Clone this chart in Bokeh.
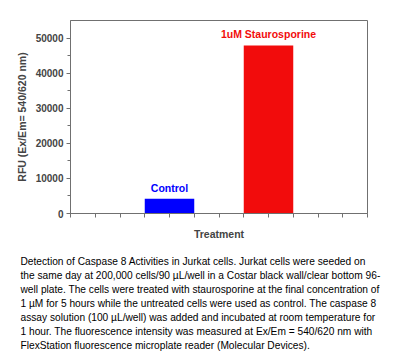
from bokeh.plotting import figure
from bokeh.models import Label, FixedTicker, Range1d, Title
from bokeh.embed import file_html
from bokeh.resources import INLINE

categories = ["Control", "1uM Staurosporine"]
values = [4200, 47900]
bar_colors = ["#0000ff", "#f20c0c"]
label_colors = ["#0000ff", "#f20c0c"]
positions = [4, 8]  # bar centres on the 0-12 treatment axis
y_ticks = [0, 10000, 20000, 30000, 40000, 50000]
caption_lines = [
    "Detection of Caspase 8 Activities in Jurkat cells. Jurkat cells were  seeded on",
    "the same day at 200,000 cells/90 \u00b5L/well in a Costar black wall/clear bottom 96-",
    "well plate. The cells were treated with staurosporine at the final concentration of",
    "1 \u00b5M for 5 hours while the untreated cells were used as control. The caspase 8",
    "assay solution (100 \u00b5L/well)  was added and incubated at room temperature  for",
    "1 hour. The fluorescence intensity was measured at Ex/Em = 540/620  nm with",
    "FlexStation fluorescence microplate reader (Molecular Devices).",
]

FONT = "Liberation Sans"
AXC = "#707070"

p = figure(width=400, height=351, output_backend="svg", toolbar_location=None,
           x_range=Range1d(0, 12), y_range=Range1d(0, 55000),
           min_border_left=70, min_border_right=33, min_border_top=20,
           min_border_bottom=0)
p.grid.visible = False
p.outline_line_color = AXC
p.outline_line_width = 1

p.vbar(x=positions, top=values, width=2, color=bar_colors, line_color=None)

for xpos, v, name, c in zip(positions, values, categories, label_colors):
    p.add_layout(Label(x=xpos, y=v, text=name, text_color=c, text_font=FONT,
                       text_font_size="10.5px", text_font_style="bold",
                       text_align="center", text_baseline="bottom", y_offset=5))

# axes
p.yaxis.ticker = FixedTicker(ticks=y_ticks, minor_ticks=[5000, 15000, 25000, 35000, 45000])
p.xaxis.ticker = FixedTicker(ticks=list(range(0, 13)), minor_ticks=[])
p.xaxis.major_label_overrides = {i: "" for i in range(0, 13)}
p.xaxis.major_label_text_font_size = "1px"
for ax in (p.xaxis, p.yaxis):
    ax.axis_line_color = AXC
    ax.major_tick_line_color = AXC
    ax.minor_tick_line_color = AXC
    ax.major_tick_out = 4
    ax.major_tick_in = 0
    ax.minor_tick_out = 3
    ax.minor_tick_in = 0
    ax.major_label_text_font = FONT
    ax.major_label_text_font_style = "bold"
    ax.axis_label_text_font = FONT
    ax.axis_label_text_font_style = "bold"
    ax.axis_label_text_font_size = "10.5px"
p.yaxis.major_label_text_font_size = "10px"
p.yaxis.major_label_standoff = 3
p.yaxis.axis_label = "RFU (Ex/Em= 540/620 nm)"
p.yaxis.axis_label_standoff = 5
p.xaxis.axis_label = "Treatment"
p.xaxis.axis_label_standoff = 10

# spacer between axis title and caption
p.add_layout(Title(text=" ", text_font_size="7px", standoff=2), "below")
# caption lines as titles stacked below the chart
for line in caption_lines:
    p.add_layout(Title(text=line, align="left", offset=-50, standoff=0.5,
                       text_font=FONT, text_font_size="10.2px",
                       text_font_style="normal", text_color="#000000"), "below")

open("out.html", "w").write(file_html(p, INLINE))
